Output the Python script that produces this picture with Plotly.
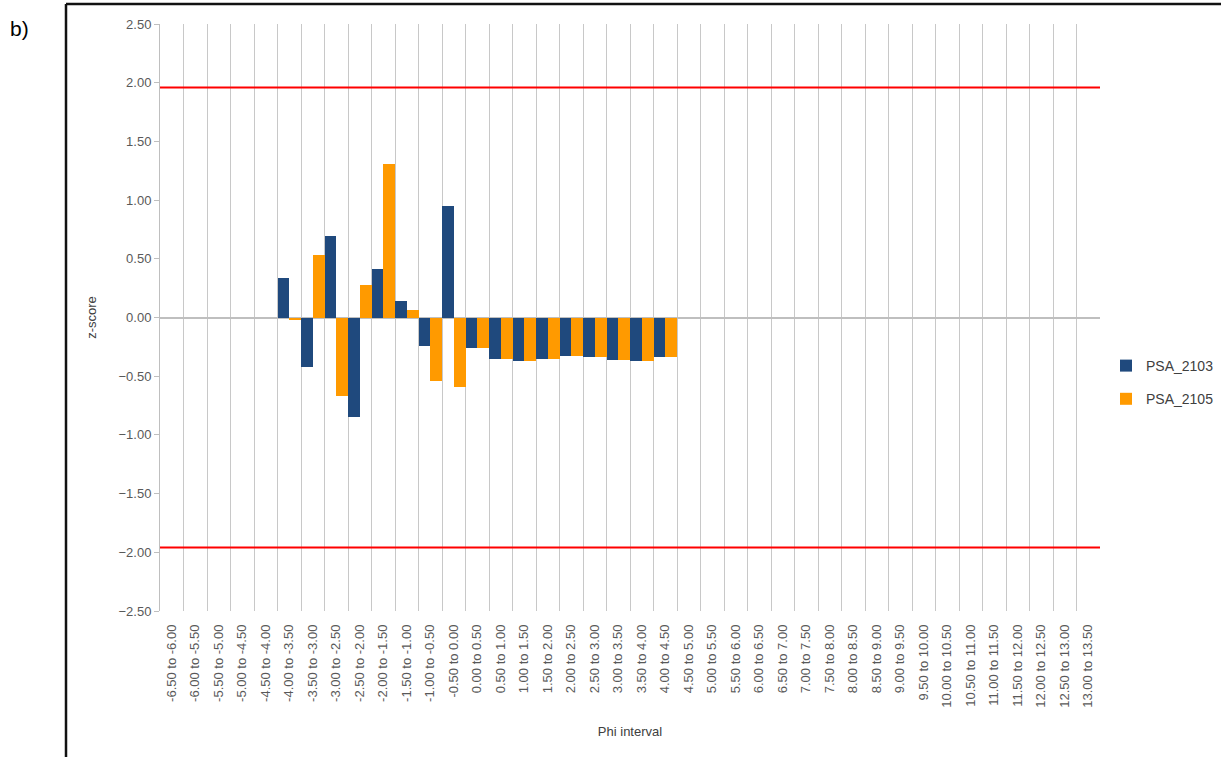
import plotly.graph_objects as go

categories = [
    "-6.50 to -6.00", "-6.00 to -5.50", "-5.50 to -5.00", "-5.00 to -4.50",
    "-4.50 to -4.00", "-4.00 to -3.50", "-3.50 to -3.00", "-3.00 to -2.50",
    "-2.50 to -2.00", "-2.00 to -1.50", "-1.50 to -1.00", "-1.00 to -0.50",
    "-0.50 to 0.00", "0.00 to 0.50", "0.50 to 1.00", "1.00 to 1.50",
    "1.50 to 2.00", "2.00 to 2.50", "2.50 to 3.00", "3.00 to 3.50",
    "3.50 to 4.00", "4.00 to 4.50", "4.50 to 5.00", "5.00 to 5.50",
    "5.50 to 6.00", "6.00 to 6.50", "6.50 to 7.00", "7.00 to 7.50",
    "7.50 to 8.00", "8.00 to 8.50", "8.50 to 9.00", "9.00 to 9.50",
    "9.50 to 10.00", "10.00 to 10.50", "10.50 to 11.00", "11.00 to 11.50",
    "11.50 to 12.00", "12.00 to 12.50", "12.50 to 13.00", "13.00 to 13.50",
]

psa_2103 = [None, None, None, None, None,
            0.34, -0.42, 0.69, -0.85, 0.41, 0.14, -0.24, 0.95,
            -0.26, -0.35, -0.37, -0.35, -0.33, -0.34, -0.36, -0.37, -0.34,
            None, None, None, None, None, None, None, None, None,
            None, None, None, None, None, None, None, None, None]

psa_2105 = [None, None, None, None, None,
            -0.02, 0.53, -0.67, 0.28, 1.31, 0.06, -0.54, -0.59,
            -0.26, -0.35, -0.37, -0.35, -0.33, -0.34, -0.36, -0.37, -0.34,
            None, None, None, None, None, None, None, None, None,
            None, None, None, None, None, None, None, None, None]

y_ticks = [-2.5, -2.0, -1.5, -1.0, -0.5, 0.0, 0.5, 1.0, 1.5, 2.0, 2.5]
threshold = 1.96

FONT = "Liberation Sans"
TXT = "#595959"
GRID = "#C8C8C8"

fig = go.Figure()
fig.add_trace(go.Bar(x=categories, y=psa_2103, name="PSA_2103",
                     marker=dict(color="#1F497D", line=dict(width=0)),
                     legendgroup="a"))
fig.add_trace(go.Bar(x=categories, y=psa_2105, name="PSA_2105",
                     marker=dict(color="#FF9A00", line=dict(width=0)),
                     legendgroup="b"))

FIG_W, FIG_H = 1221, 757
L, R, T, B = 160, 1100, 24, 611
W, H = R - L, B - T


def px(x):
    return (x - L) / W


def py(y):
    return (B - y) / H


fig.add_shape(type="line", xref="paper", yref="paper",
              x0=px(66), x1=px(66), y0=py(760), y1=py(4),
              line=dict(color="#111111", width=2.5))
fig.add_shape(type="line", xref="paper", yref="paper",
              x0=px(66), x1=px(1225), y0=py(4), y1=py(4),
              line=dict(color="#111111", width=2.5))

for v in (threshold, -threshold):
    fig.add_shape(type="line", xref="paper", yref="y",
                  x0=0, x1=1, y0=v, y1=v,
                  line=dict(color="#FF0000", width=2))

fig.add_annotation(text="b)", xref="paper", yref="paper",
                   x=px(8), y=py(28), xanchor="left", yanchor="middle",
                   showarrow=False, font=dict(family=FONT, size=21, color="#000000"))

fig.update_layout(
    width=FIG_W, height=FIG_H,
    margin=dict(l=L, r=FIG_W - R, t=T, b=FIG_H - B, autoexpand=False),
    paper_bgcolor="white", plot_bgcolor="white",
    barmode="group", bargap=0, bargroupgap=0,
    font=dict(family=FONT, size=13, color=TXT),
    showlegend=True,
    legend=dict(xref="container", yref="container",
                x=1106 / FIG_W, y=1 - 382.5 / FIG_H, xanchor="left", yanchor="middle",
                traceorder="grouped", tracegroupgap=12,
                font=dict(family=FONT, size=14, color="#404040"),
                itemwidth=30, bgcolor="rgba(0,0,0,0)"),
    xaxis=dict(
        categoryorder="array", categoryarray=categories,
        range=[-0.5, len(categories) - 0.5],
        tickson="boundaries", ticks="", showgrid=True,
        gridcolor=GRID, gridwidth=1,
        tickangle=-90, ticklabelstandoff=10,
        tickfont=dict(family=FONT, size=13, color=TXT),
        showline=False, zeroline=False, automargin=False,
        title=dict(text="Phi interval", standoff=20,
                   font=dict(family=FONT, size=13, color="#404040")),
    ),
    yaxis=dict(
        range=[-2.5, 2.5], tickvals=y_ticks, tickformat=".2f",
        showgrid=False, zeroline=True, zerolinecolor="#BFBFBF", zerolinewidth=1.5,
        showline=True, linecolor="#BFBFBF", linewidth=1,
        ticks="outside", ticklen=5, tickcolor="#BFBFBF",
        tickfont=dict(family=FONT, size=13, color=TXT),
        automargin=False,
        title=dict(text="z-score", standoff=18,
                   font=dict(family=FONT, size=13, color="#404040")),
    ),
)

fig.write_html("out.html", config={"displayModeBar": False},
               post_script="document.body.style.margin='0px';")
